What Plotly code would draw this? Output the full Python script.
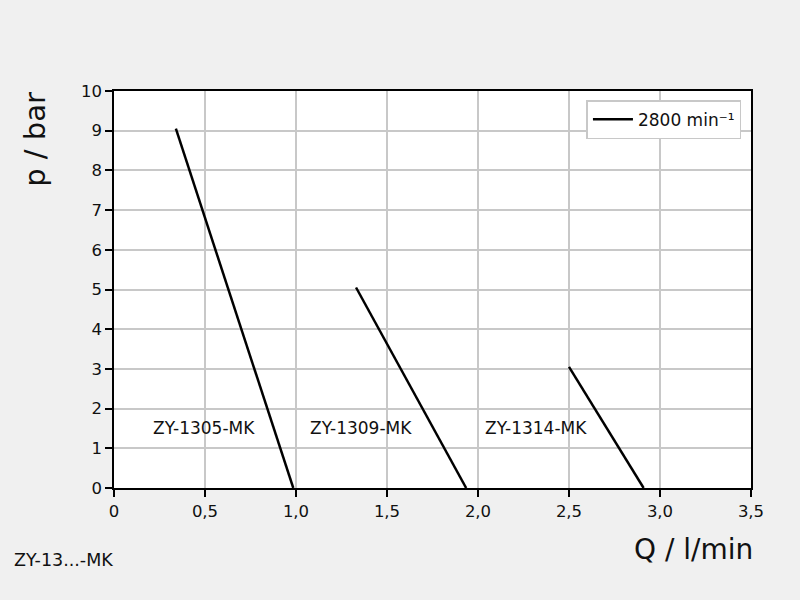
import plotly.graph_objects as go

series_names = ["ZY-1305-MK", "ZY-1309-MK", "ZY-1314-MK"]
q_values = [[0.34, 0.985], [1.33, 1.935], [2.5, 2.91]]
p_values = [[9.05, 0.0], [5.05, 0.0], [3.05, 0.0]]
label_q = [0.495, 1.357, 2.32]
label_p = [1.5, 1.5, 1.5]
x_ticks = [0, 0.5, 1.0, 1.5, 2.0, 2.5, 3.0, 3.5]
x_tick_text = ["0", "0,5", "1,0", "1,5", "2,0", "2,5", "3,0", "3,5"]
y_ticks = list(range(0, 11))
legend_name = "2800 min⁻¹"

FONT = "DejaVu Sans"
fig = go.Figure()
for i, name in enumerate(series_names):
    fig.add_trace(go.Scatter(
        x=q_values[i], y=p_values[i], mode="lines",
        line=dict(color="black", width=2.5),
        name=legend_name, showlegend=(i == 0), cliponaxis=False))
    fig.add_annotation(x=label_q[i], y=label_p[i], text=name, showarrow=False,
                       font=dict(family=FONT, size=17, color="#111"),
                       xanchor="center", yanchor="middle")

axis_common = dict(showline=True, linecolor="black", linewidth=1.5, mirror=True,
                   ticks="outside", ticklen=7, tickcolor="black", tickwidth=1.5,
                   showgrid=True, gridcolor="#c8c8c8", gridwidth=1.5, zeroline=False,
                   tickfont=dict(family=FONT, size=16.5, color="#111"))
fig.update_xaxes(range=[0, 3.5], tickvals=x_ticks, ticktext=x_tick_text, **axis_common)
fig.update_yaxes(range=[0, 10], tickvals=y_ticks, **axis_common)

fig.add_annotation(xref="paper", yref="paper", x=-0.124, y=0.877, text="p / bar",
                   textangle=-90, showarrow=False, xanchor="center", yanchor="middle",
                   font=dict(family=FONT, size=29, color="#111"))
fig.add_annotation(xref="paper", yref="paper", x=1.006, y=-0.156, text="Q / l/min",
                   showarrow=False, xanchor="right", yanchor="middle",
                   font=dict(family=FONT, size=28, color="#111"))
fig.add_annotation(xref="paper", yref="paper", x=-0.16, y=-0.181, text="ZY-13...-MK",
                   showarrow=False, xanchor="left", yanchor="middle",
                   font=dict(family=FONT, size=17.5, color="#111"))

fig.update_layout(
    width=800, height=600,
    margin=dict(l=114, r=49, t=91, b=112),
    paper_bgcolor="#f0f0f0", plot_bgcolor="white",
    showlegend=True,
    legend=dict(x=0.985, y=0.977, xanchor="right", yanchor="top",
                bgcolor="white", bordercolor="#c8c8c8", borderwidth=1.5,
                font=dict(family=FONT, size=17, color="#111"),
                itemwidth=40),
)
fig.write_html("out.html", config={"displayModeBar": False},
               post_script="document.body.style.margin='0';document.body.style.background='#f0f0f0';")
